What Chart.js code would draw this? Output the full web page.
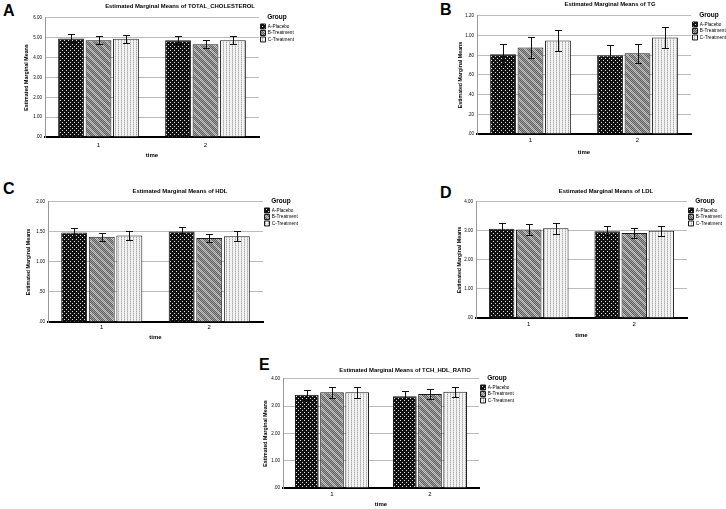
<!DOCTYPE html>
<html>
<head>
<meta charset="utf-8">
<script src="https://cdn.jsdelivr.net/npm/chart.js@4.4.1/dist/chart.umd.min.js"></script>
<style>
  body { margin: 0; background: #fff; width: 726px; height: 509px; position: relative; overflow: hidden; font-family: 'Liberation Sans', Arial, sans-serif; }
  canvas { position: absolute; }
  .tag { position: absolute; font-weight: bold; font-size: 16px; line-height: 16px; color: #000; }
</style>
</head>
<body>
<div class="tag" style="left:3px;top:3px">A</div>
<div class="tag" style="left:440px;top:2px">B</div>
<div class="tag" style="left:3px;top:181px">C</div>
<div class="tag" style="left:440px;top:185px">D</div>
<div class="tag" style="left:259px;top:357px">E</div>

<canvas id="chartA" width="363" height="165" style="left:0;top:0"></canvas>
<canvas id="chartB" width="363" height="165" style="left:363px;top:0"></canvas>
<canvas id="chartC" width="363" height="170" style="left:0;top:175px"></canvas>
<canvas id="chartD" width="363" height="170" style="left:363px;top:175px"></canvas>
<canvas id="chartE" width="300" height="159" style="left:230px;top:350px"></canvas>

<script>
// ---- data ----
const times = ['1', '2'];
const groups = ['A-Placebo', 'B-Treatment', 'C-Treatment'];

// TOTAL_CHOLESTEROL (mean, 95% CI half width)
const tcPlacebo = [4.97, 4.88], tcTreatB = [4.88, 4.67], tcTreatC = [4.95, 4.88];
const tcPlaceboCI = [0.20, 0.20], tcTreatBCI = [0.21, 0.20], tcTreatCCI = [0.20, 0.20];
const tcAxis = [6, 1];

// TG
const tgPlacebo = [0.81, 0.80], tgTreatB = [0.88, 0.82], tgTreatC = [0.95, 0.98];
const tgPlaceboCI = [0.11, 0.10], tgTreatBCI = [0.11, 0.10], tgTreatCCI = [0.11, 0.11];
const tgAxis = [1.2, 0.2];

// HDL
const hdlPlacebo = [1.49, 1.51], hdlTreatB = [1.42, 1.40], hdlTreatC = [1.44, 1.43];
const hdlPlaceboCI = [0.07, 0.08], hdlTreatBCI = [0.07, 0.07], hdlTreatCCI = [0.08, 0.08];
const hdlAxis = [2, 0.5];

// LDL
const ldlPlacebo = [3.08, 2.99], ldlTreatB = [3.05, 2.93], ldlTreatC = [3.09, 3.01];
const ldlPlaceboCI = [0.19, 0.17], ldlTreatBCI = [0.19, 0.17], ldlTreatCCI = [0.19, 0.17];
const ldlAxis = [4, 1];

// TCH_HDL_RATIO
const ratioPlacebo = [3.42, 3.37], ratioTreatB = [3.51, 3.45], ratioTreatC = [3.51, 3.53];
const ratioPlaceboCI = [0.19, 0.19], ratioTreatBCI = [0.20, 0.19], ratioTreatCCI = [0.20, 0.19];
const ratioAxis = [4, 1];

// ---- look ----
Chart.defaults.font.family = "'Liberation Sans', Arial, sans-serif";
Chart.defaults.color = '#000';
const LEGEND_W = 36;

function tile(w, h, paint) {
    const c = document.createElement('canvas');
    c.width = w; c.height = h;
    const g = c.getContext('2d');
    paint(g);
    return g.createPattern(c, 'repeat');
}
const dotsDark = tile(4, 4, g => {
    g.fillStyle = '#121212'; g.fillRect(0, 0, 4, 4);
    g.fillStyle = '#dcdcdc'; g.fillRect(0, 0, 1, 1); g.fillRect(2, 2, 1, 1);
});
const hatchGrey = tile(8, 8, g => {
    for (let x = 0; x < 8; x++) {
        for (let y = 0; y < 8; y++) {
            const band = ((x - y + 16) % 8) < 3;
            g.fillStyle = (x + y) % 2 ? (band ? '#8e8e8e' : '#5e5e5e') : (band ? '#c8c8c8' : '#a0a0a0');
            g.fillRect(x, y, 1, 1);
        }
    }
});
const stripesLight = tile(3, 2, g => {
    g.fillStyle = '#f3f3f3'; g.fillRect(0, 0, 3, 2);
    g.fillStyle = '#a9a9a9'; g.fillRect(1, 0, 1, 1);
    g.fillStyle = '#d2d2d2'; g.fillRect(1, 1, 1, 1);
});
const fills = [dotsDark, hatchGrey, stripesLight];

// error bars from each dataset's ci array
const errorBars = {
    id: 'errorBars',
    afterDatasetsDraw(chart) {
        const ctx = chart.ctx;
        const y = chart.scales.y;
        ctx.save();
        ctx.strokeStyle = '#111';
        ctx.lineWidth = 1;
        chart.data.datasets.forEach((ds, i) => {
            chart.getDatasetMeta(i).data.forEach((bar, j) => {
                const x = Math.round(bar.x) + 0.5;
                const top = Math.round(y.getPixelForValue(ds.data[j] + ds.ci[j])) + 0.5;
                const bot = Math.round(y.getPixelForValue(ds.data[j] - ds.ci[j])) + 0.5;
                ctx.beginPath();
                ctx.moveTo(x, top); ctx.lineTo(x, bot);
                ctx.moveTo(x - 3.5, top); ctx.lineTo(x + 3.5, top);
                ctx.moveTo(x - 3.5, bot); ctx.lineTo(x + 3.5, bot);
                ctx.stroke();
            });
        });
        ctx.restore();
    }
};

// SPSS puts the title off-centre and the legend a bit above the plot
const nudge = {
    id: 'nudge',
    afterLayout(chart, args, opts) {
        const t = chart.titleBlock;
        const half = (t.right - t.left) / 2;
        t.left = opts.titleX - half;
        t.right = opts.titleX + half;
        chart.legend.top += opts.legendDy;
        chart.legend.bottom += opts.legendDy;
    }
};

function makeChart(id, title, means, cis, axis, g) {
    const canvas = document.getElementById(id);
    const W = canvas.width, H = canvas.height;
    const xTitleH = g.xTitleY - g.y1 + 3.6;
    return new Chart(canvas, {
        type: 'bar',
        data: {
            labels: times,
            datasets: groups.map((name, i) => ({
                label: name,
                data: means[i],
                ci: cis[i],
                backgroundColor: fills[i],
                borderColor: '#1a1a1a',
                borderWidth: 1,
                categoryPercentage: 0.77,
                barPercentage: 0.94
            }))
        },
        options: {
            responsive: false,
            animation: false,
            layout: {
                padding: { top: 0, left: g.yTitleX - 3, right: W - g.x1 - LEGEND_W, bottom: H - g.y1 - xTitleH }
            },
            plugins: {
                title: {
                    display: true, text: title,
                    font: { size: 5.9, weight: 'bold', lineHeight: 1.2 },
                    padding: { top: g.titleY - 3.5, bottom: g.y0 - g.titleY - 3.6 }
                },
                legend: {
                    position: 'right', align: 'start', fullSize: false, maxWidth: LEGEND_W,
                    title: { display: true, text: 'Group', font: { size: 6.5, weight: 'bold', lineHeight: 1 }, padding: { top: 0, bottom: 2 } },
                    labels: { boxWidth: 5, boxHeight: 5, padding: 1.5, font: { size: 4.7 } }
                },
                tooltip: { enabled: false },
                nudge: { titleX: g.titleX, legendDy: -4 }
            },
            scales: {
                x: {
                    grid: { display: false, drawTicks: false },
                    border: { color: '#000', width: 2 },
                    ticks: { font: { size: 6 }, padding: g.xTickY - g.y1 - 3 },
                    title: { display: true, text: 'time', font: { size: 6, weight: 'bold', lineHeight: 1.2 }, padding: 0 },
                    afterFit: s => { s.height = xTitleH; }
                },
                y: {
                    min: 0, max: axis[0],
                    grid: { color: '#bbbbbb', drawTicks: false },
                    border: { color: '#999999', width: 1 },
                    ticks: {
                        stepSize: axis[1], font: { size: 4.5 }, padding: 3, autoSkip: false,
                        callback: v => v.toFixed(2).replace(/^0\./, '.')
                    },
                    title: { display: true, text: 'Estimated Marginal Means', font: { size: 5.3, weight: 'bold', lineHeight: 1.2 }, padding: 0 },
                    afterFit: s => { s.width = g.x0 - g.yTitleX + 3; }
                }
            }
        },
        plugins: [errorBars, nudge]
    });
}

// geometry inside each canvas
makeChart('chartA', 'Estimated Marginal Means of TOTAL_CHOLESTEROL',
    [tcPlacebo, tcTreatB, tcTreatC], [tcPlaceboCI, tcTreatBCI, tcTreatCCI], tcAxis,
    { x0: 45, x1: 259, y0: 18, y1: 137, yTitleX: 26, xTickY: 145, xTitleY: 155, titleX: 180, titleY: 6 });

makeChart('chartB', 'Estimated Marginal Means of TG',
    [tgPlacebo, tgTreatB, tgTreatC], [tgPlaceboCI, tgTreatBCI, tgTreatCCI], tgAxis,
    { x0: 114, x1: 328, y0: 16, y1: 134, yTitleX: 97, xTickY: 140, xTitleY: 152, titleX: 247, titleY: 4.5 });

makeChart('chartC', 'Estimated Marginal Means of HDL',
    [hdlPlacebo, hdlTreatB, hdlTreatC], [hdlPlaceboCI, hdlTreatBCI, hdlTreatCCI], hdlAxis,
    { x0: 48, x1: 263, y0: 27, y1: 147, yTitleX: 28, xTickY: 152, xTitleY: 162, titleX: 180, titleY: 16 });

makeChart('chartD', 'Estimated Marginal Means of LDL',
    [ldlPlacebo, ldlTreatB, ldlTreatC], [ldlPlaceboCI, ldlTreatBCI, ldlTreatCCI], ldlAxis,
    { x0: 113, x1: 324, y0: 27, y1: 143, yTitleX: 96, xTickY: 149, xTitleY: 160, titleX: 243, titleY: 16 });

makeChart('chartE', 'Estimated Marginal Means of TCH_HDL_RATIO',
    [ratioPlacebo, ratioTreatB, ratioTreatC], [ratioPlaceboCI, ratioTreatBCI, ratioTreatCCI], ratioAxis,
    { x0: 53, x1: 249, y0: 29, y1: 138, yTitleX: 35, xTickY: 144, xTitleY: 154, titleX: 175, titleY: 20 });
</script>
</body>
</html>
